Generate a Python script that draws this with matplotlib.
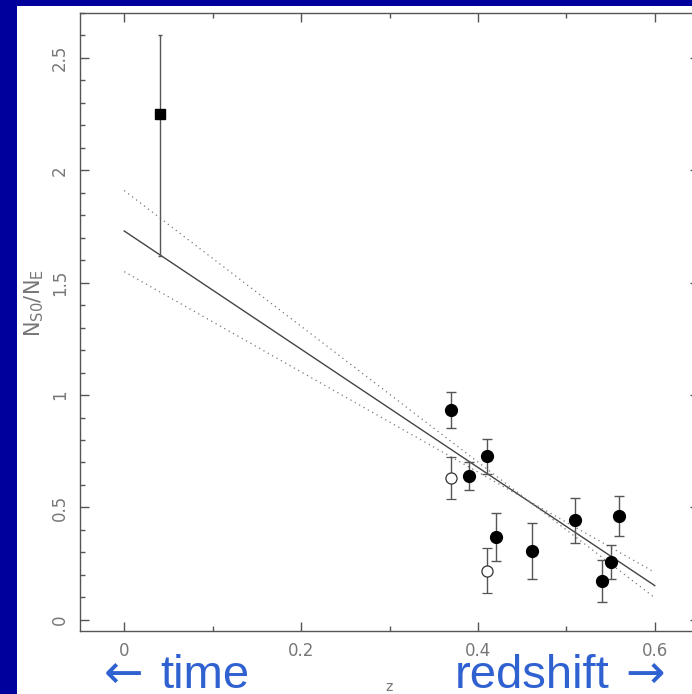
import matplotlib.pyplot as plt
import numpy as np
from matplotlib.patches import Rectangle
from matplotlib.ticker import MultipleLocator

# filled circles
z_fill = [0.370, 0.390, 0.410, 0.421, 0.461, 0.510, 0.540, 0.550, 0.560]
r_fill = [0.934, 0.641, 0.727, 0.369, 0.306, 0.443, 0.172, 0.258, 0.461]
e_fill = [0.080, 0.063, 0.077, 0.106, 0.123, 0.100, 0.094, 0.076, 0.090]

# open circles
z_open = [0.370, 0.410]
r_open = [0.632, 0.218]
e_open = [0.094, 0.100]

# local value (square)
z_sq = [0.040]
r_sq = [2.25]
e_sq_lo = [0.63]
e_sq_hi = [0.35]

# fit and its bounding lines: (intercept, slope)
fit = (1.73, -2.63)
band1 = (1.91, -3.02)
band2 = (1.549, -2.23)
z_fit = np.array([0.0, 0.6])

W, H = 692, 694
fig = plt.figure(figsize=(W / 100, H / 100), dpi=100, facecolor='#00009c')
fig.patches.append(Rectangle((17 / W, 0), 1, 1 - 6 / H, transform=fig.transFigure,
                             facecolor='white', edgecolor='none', zorder=-5))

ax = fig.add_axes([80 / W, 1 - 631 / H, 619 / W, 618 / H])
ax.set_facecolor('white')
gray = '#555555'
lab = '#777777'

ax.plot(z_fit, fit[0] + fit[1] * z_fit, color='#444444', lw=1.0)
ax.plot(z_fit, band1[0] + band1[1] * z_fit, color='#777777', lw=0.9, ls=(0, (1, 3)))
ax.plot(z_fit, band2[0] + band2[1] * z_fit, color='#777777', lw=0.9, ls=(0, (1, 3)))

ax.errorbar(z_fill, r_fill, yerr=e_fill, fmt='o', ms=8.5, color='black',
            ecolor=gray, elinewidth=1, capsize=3.3, capthick=1)
ax.errorbar(z_open, r_open, yerr=e_open, fmt='o', ms=8, mfc='white', mec='#333333',
            mew=0.9, ecolor=gray, elinewidth=1, capsize=3.3, capthick=1)
ax.errorbar(z_sq, r_sq, yerr=[e_sq_lo, e_sq_hi], fmt='s', ms=6.5, color='black',
            ecolor=gray, elinewidth=1, capsize=1.5, capthick=1)

ax.set_xlim(-0.05, 0.65)
ax.set_ylim(-0.05, 2.7)
ax.xaxis.set_minor_locator(MultipleLocator(0.1))
ax.yaxis.set_minor_locator(MultipleLocator(0.1))
ax.set_xticks([0, 0.2, 0.4, 0.6], ['0', '0.2', '0.4', '0.6'])
ax.set_yticks([0, 0.5, 1, 1.5, 2, 2.5], ['0', '0.5', '1', '1.5', '2', '2.5'])
for s in ax.spines.values():
    s.set_color(gray)
    s.set_linewidth(1)
ax.tick_params(which='both', direction='in', top=True, right=True, color=gray,
               labelcolor=lab, labelsize=12)
ax.tick_params(which='major', length=6.5, width=1, pad=8)
ax.tick_params(which='minor', length=3.5, width=1)
for t in ax.get_yticklabels():
    t.set_rotation(90)
    t.set_va('center')
ax.set_ylabel(r'$\mathregular{N_{S0}/N_E}$', color=lab, fontsize=15)
ax.yaxis.set_label_coords(-0.055, 0.53)
ax.set_xlabel('z', color=lab, fontsize=10, labelpad=14)

blue = '#2f62d0'
fig.text(160 / W, 1 - 688 / H, 'time', color=blue, fontsize=34,
         family='Liberation Sans', ha='left', va='baseline')
fig.text(104 / W, 1 - 688 / H, '\u2190', color=blue, fontsize=34,
         family='DejaVu Sans', ha='left', va='baseline')
fig.text(455 / W, 1 - 688 / H, 'redshift', color=blue, fontsize=34,
         family='Liberation Sans', ha='left', va='baseline')
fig.text(665 / W, 1 - 688 / H, '\u2192', color=blue, fontsize=34,
         family='DejaVu Sans', ha='right', va='baseline')

fig.savefig('out.png', dpi=100, facecolor=fig.get_facecolor())
